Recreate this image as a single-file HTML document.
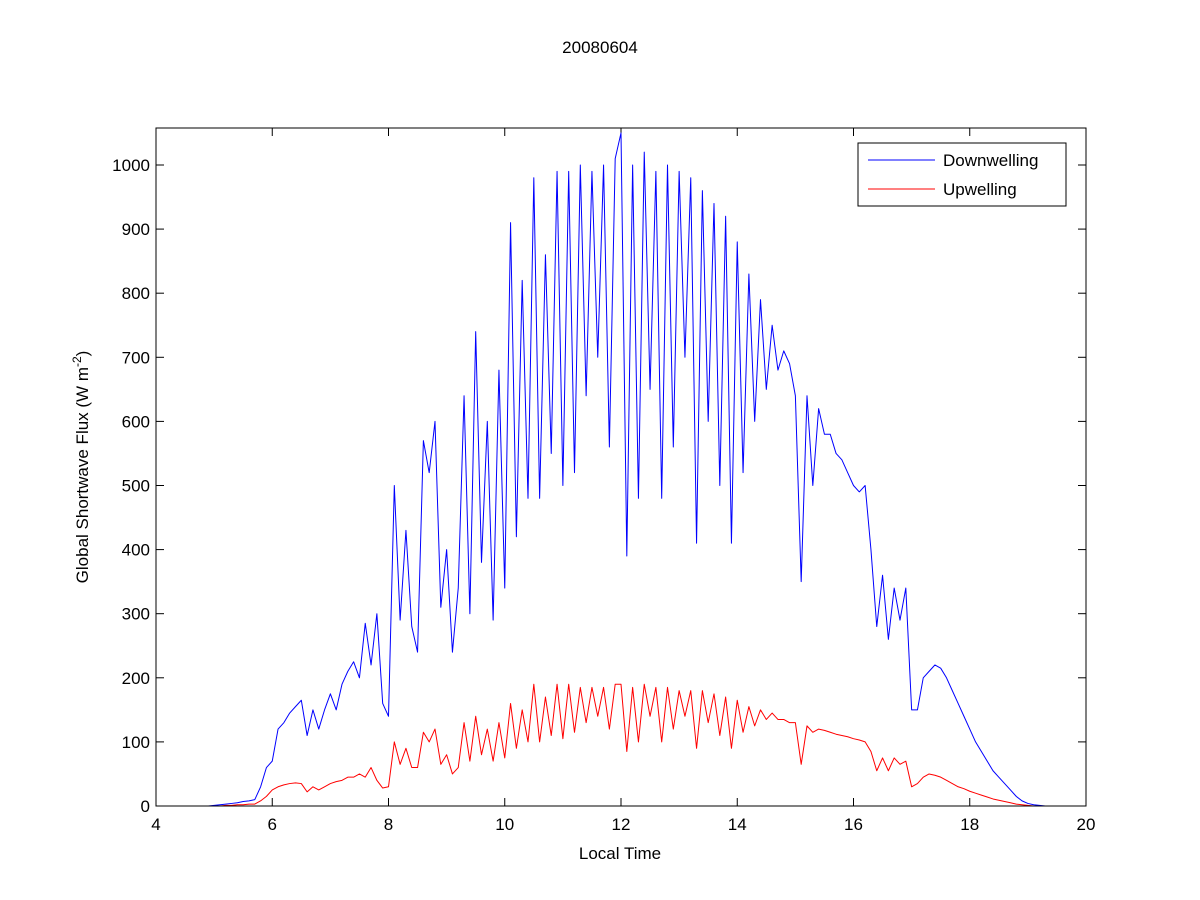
<!DOCTYPE html>
<html>
<head>
<meta charset="utf-8">
<style>
html,body{margin:0;padding:0;background:#fff;}
svg{display:block;font-family:"Liberation Sans",Arial,sans-serif;}
</style>
</head>
<body>
<svg id="chart" width="1200" height="900" viewBox="0 0 1200 900">
  <rect x="0" y="0" width="1200" height="900" fill="#fff"/>
  <text x="600" y="53" text-anchor="middle" font-size="17">20080604</text>
  <g id="axes"></g>
  <g id="series"></g>
  <rect x="156" y="128" width="930" height="678" fill="none" stroke="#000" stroke-width="1"/>
  <text x="620" y="859" text-anchor="middle" font-size="17">Local Time</text>
  <text transform="translate(88,467) rotate(-90)" text-anchor="middle" font-size="17">Global Shortwave Flux (W m<tspan dy="-7" font-size="12">-2</tspan><tspan dy="7">)</tspan></text>
  <g>
    <rect x="858" y="143" width="208" height="63" fill="#fff" stroke="#000" stroke-width="1"/>
    <line x1="868" y1="160" x2="935" y2="160" stroke="#0000ff" stroke-width="1"/>
    <text x="943" y="166" font-size="17">Downwelling</text>
    <line x1="868" y1="189" x2="935" y2="189" stroke="#ff0000" stroke-width="1"/>
    <text x="943" y="195" font-size="17">Upwelling</text>
  </g>
</svg>
<script>
const xTicks = [4, 6, 8, 10, 12, 14, 16, 18, 20];
const yTicks = [0, 100, 200, 300, 400, 500, 600, 700, 800, 900, 1000];
const tStart = 4.0;
const tStep = 0.1;
const downwelling = [0,0,0,0,0,0,0,0,0,0,
1,2,3,4,5,7,8,10,
30,60,70,120,130,145,155,165,110,150,120,150,175,150,190,210,225,200,285,220,300,160,
140,500,290,430,280,240,570,520,600,310,400,240,340,640,300,740,380,600,290,680,
340,910,420,820,480,980,480,860,550,990,500,990,520,1000,640,990,700,1000,560,1010,
1050,390,1000,480,1020,650,990,480,1000,560,990,700,980,410,960,600,940,500,920,410,
880,520,830,600,790,650,750,680,710,690,640,350,640,500,620,580,580,550,540,520,
500,490,500,400,280,360,260,340,290,340,150,150,200,210,220,215,200,180,160,140,
120,100,85,70,55,45,35,25,15,8,4,2,1,0,0];
const upwelling = [0,0,0,0,0,0,0,0,0,0,
0,0,1,1,2,2,3,3,
8,15,25,30,33,35,36,35,22,30,25,30,35,38,40,45,45,50,45,60,40,28,
30,100,65,90,60,60,115,100,120,65,80,50,60,130,70,140,80,120,70,130,
75,160,90,150,100,190,100,170,110,190,105,190,115,185,130,185,140,185,120,190,
190,85,185,100,190,140,185,100,185,120,180,140,180,90,180,130,175,110,170,90,
165,115,155,125,150,135,145,135,135,130,130,65,125,115,120,118,115,112,110,108,
105,103,100,85,55,75,55,75,65,70,30,35,45,50,48,45,40,35,30,27,
23,20,17,14,11,9,7,5,3,2,1,0,0,0,0];

const X0 = 156, X1 = 1086, Y0 = 806, YTOP = 128;
const xMin = 4, xMax = 20, yMin = 0, yMax = 1057.7;
function xScale(v){ return X0 + (v - xMin) / (xMax - xMin) * (X1 - X0); }
function yScale(v){ return Y0 - (v - yMin) / (yMax - yMin) * (Y0 - YTOP); }
const NS = "http://www.w3.org/2000/svg";
const axes = document.getElementById('axes');
const series = document.getElementById('series');
function mk(tag, attrs){ const e = document.createElementNS(NS, tag); for (const k in attrs) e.setAttribute(k, attrs[k]); return e; }

xTicks.forEach(function(v){
  const x = xScale(v);
  const t1 = mk('line', {x1:x, y1:Y0, x2:x, y2:Y0-8, stroke:'#000'});
  
  
  axes.appendChild(t1);
  const t2 = mk('line', {x1:x, y1:YTOP, x2:x, y2:YTOP+8, stroke:'#000'});
  
  
  axes.appendChild(t2);
  const lb = mk('text', {x:x, y:Y0+24, 'text-anchor':'middle', 'font-size':17});
  lb.textContent = v;
  
  
  axes.appendChild(lb);
});
yTicks.forEach(function(v){
  const y = yScale(v);
  const t1 = mk('line', {x1:X0, y1:y, x2:X0+8, y2:y, stroke:'#000'});
  
  
  axes.appendChild(t1);
  const t2 = mk('line', {x1:X1, y1:y, x2:X1-8, y2:y, stroke:'#000'});
  
  
  axes.appendChild(t2);
  const lb = mk('text', {x:X0-6, y:y+6, 'text-anchor':'end', 'font-size':17});
  lb.textContent = v;
  
  
  axes.appendChild(lb);
});
function drawLine(vals, color, name){
  const pts = vals.map(function(v, i){ return xScale(tStart + i * tStep).toFixed(2) + ',' + yScale(v).toFixed(2); }).join(' ');
  const pl = mk('polyline', {points:pts, fill:'none', stroke:color, 'stroke-width':1, 'stroke-linejoin':'round'});
  
  
  series.appendChild(pl);
}
drawLine(downwelling, '#0000ff', 'downwelling-line');
drawLine(upwelling, '#ff0000', 'upwelling-line');
</script>
</body>
</html>
